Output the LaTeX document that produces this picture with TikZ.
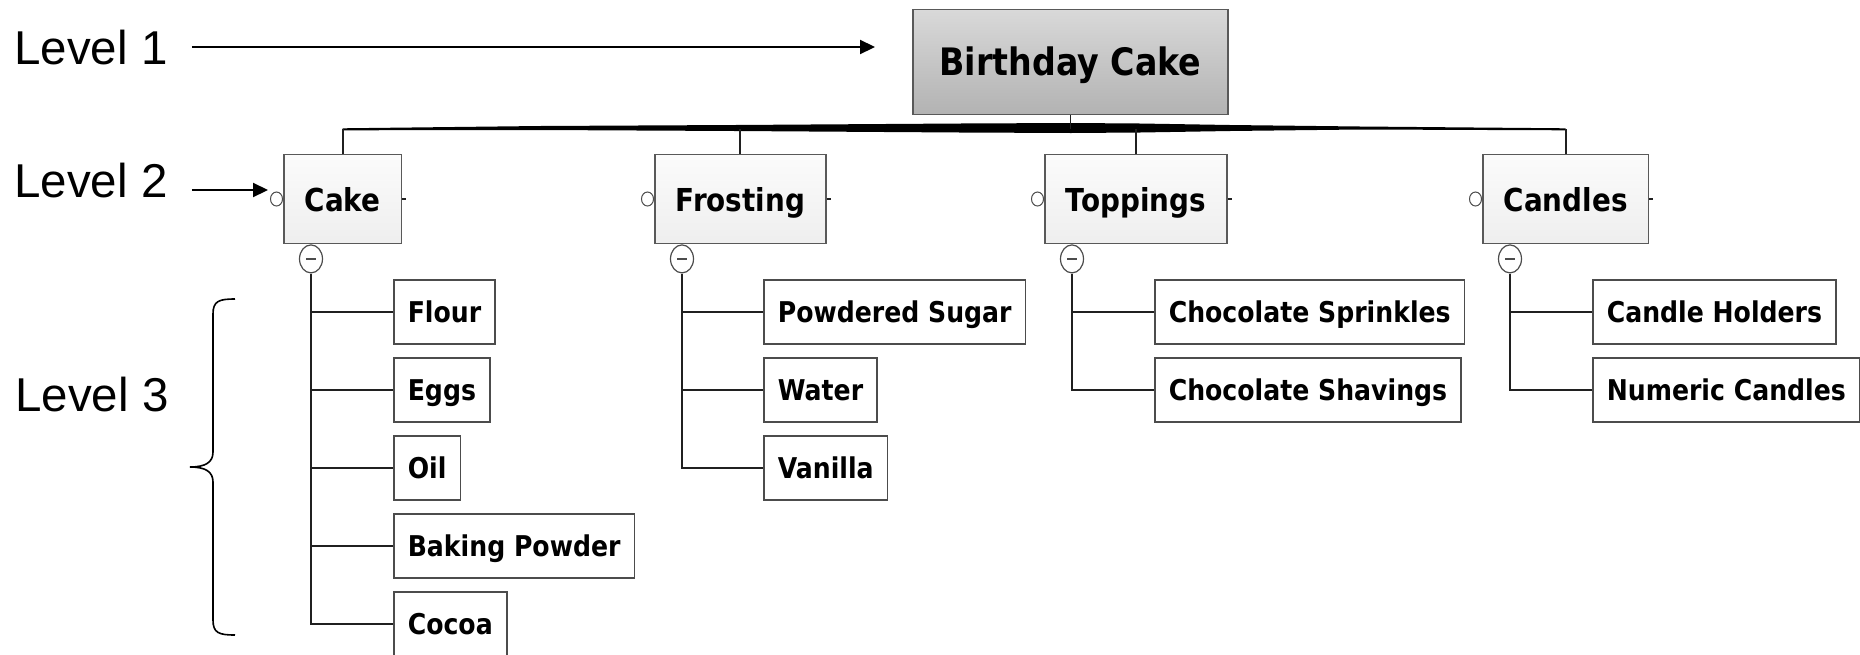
\documentclass[tikz,border=0pt]{standalone}
\usepackage{fontspec}
\setmainfont{Liberation Sans}
\newfontfamily\boxfont{DejaVu Sans}[FakeStretch=0.88]
\usetikzlibrary{arrows.meta,positioning,shapes.geometric,decorations.pathreplacing,calc}

\begin{document}
\begin{tikzpicture}[x=0.5pt, y=-0.5pt, >={Stealth[length=7.5pt,width=7pt,inset=0pt]}]
  \tikzset{
    lvl/.style={font=\fontsize{23.75}{28}\selectfont, inner sep=0, anchor=base west},
    root/.style={draw=gray!70!black, line width=0.8pt, top color=gray!30, bottom color=gray!60,
      minimum height=52.5pt, inner xsep=13.25pt, text height=15pt, text depth=1.2pt,
      font=\boxfont\bfseries\fontsize{18.9}{22}\selectfont},
    mid/.style={draw=gray!70!black, line width=0.8pt, top color=gray!3, bottom color=gray!13,
      minimum height=44.5pt, inner xsep=10.5pt, text height=13pt, text depth=1pt, anchor=west,
      font=\boxfont\bfseries\fontsize{15.8}{19}\selectfont},
    leaf/.style={draw=gray!60!black, line width=0.8pt, fill=white, minimum height=32pt,
      inner xsep=7pt, text height=12pt, text depth=1.2pt, anchor=west,
      font=\boxfont\bfseries\fontsize{14.3}{17}\selectfont},
    dot/.style={draw=gray!60!black, ellipse, fill=white, inner sep=0, minimum width=6pt,
      minimum height=7pt, line width=0.5pt, anchor=east},
    knob/.style={draw=gray!60!black, ellipse, fill=white, inner sep=0, minimum width=11.5pt,
      minimum height=14pt, line width=0.6pt, anchor=north,
      path picture={\draw[line width=0.6pt] ([xshift=-2.5pt]path picture bounding box.center) -- ([xshift=2.5pt]path picture bounding box.center);}},
    link/.style={draw=gray!25!black, line width=0.75pt}
  }
  \useasboundingbox (0,0) rectangle (1860,654);

  \node[lvl] (lvl1) at (14,64) {Level 1};
  \node[lvl] (lvl2) at (14,197) {Level 2};
  \node[lvl] (lvl3) at (15,411) {Level 3};
  \coordinate (tip1) at (875,47);
  \coordinate (tip2) at (268,190);
  \draw[->, line width=1.1pt, shorten <=12pt] (lvl1.east |- tip1) -- (tip1);
  \draw[->, line width=1.1pt, shorten <=12pt] (lvl2.east |- tip2) -- (tip2);
  \coordinate (bracetop) at (235,299);
  \coordinate (bracebot) at (235,635);
  \draw[line width=0.8pt] (bracetop) .. controls (219,299) and (213,301) .. (213,314) -- (213,452)
    .. controls (213,462) and (206,467) .. (190,467) .. controls (206,467) and (213,472) .. (213,482)
    -- (213,620) .. controls (213,633) and (219,635) .. (bracebot);

  \node[root] (root) at (1070.5,62) {Birthday Cake};
  \node[mid] (cake) at (283,199) {Cake};
  \node[mid] (frosting) at (654,199) {Frosting};
  \node[mid] (toppings) at (1044,199) {Toppings};
  \node[mid] (candles) at (1482,199) {Candles};

  \coordinate (hub) at ($(root.south)+(0,14)$);
  \fill ($(hub -| cake)+(0,-1)$) -- (540,126) -- (735,125) -- (960,123.5) -- (1071,123)
    -- (1140,123.5) -- (1230,125) -- (1360,126.5) -- ($(hub -| candles)+(0,-1)$)
    -- ($(hub -| candles)+(0,1)$) -- (1360,129.5) -- (1230,131) -- (1140,132.5) -- (1071,133)
    -- (960,132.5) -- (735,131) -- (540,130) -- ($(hub -| cake)+(0,1)$) -- cycle;
  \draw[link] (root) -- (hub);
  \draw[link, line width=1pt] (hub -| cake) -- (cake);
  \draw[link, line width=1pt] (hub -| frosting) -- (frosting);
  \draw[link, line width=1pt] (hub -| toppings) -- (toppings);
  \draw[link, line width=1pt] (hub -| candles) -- (candles);

  \node[dot] (cakedot) at (cake.west) {};
  \node[dot] (frostingdot) at (frosting.west) {};
  \node[dot] (toppingsdot) at (toppings.west) {};
  \node[dot] (candlesdot) at (candles.west) {};
  \draw[link, line width=0.6pt] (cake.east) -- ++(4,0);
  \draw[link, line width=0.6pt] (frosting.east) -- ++(4,0);
  \draw[link, line width=0.6pt] (toppings.east) -- ++(4,0);
  \draw[link, line width=0.6pt] (candles.east) -- ++(4,0);

  \node[knob] (cakeknob) at ([xshift=14pt]cake.south west) {};
  \node[knob] (frostingknob) at ([xshift=14pt]frosting.south west) {};
  \node[knob] (toppingsknob) at ([xshift=14pt]toppings.south west) {};
  \node[knob] (candlesknob) at ([xshift=14pt]candles.south west) {};

  \node[leaf] (flour) at (393,312) {Flour};
  \node[leaf] (eggs) at ($(flour.west)+(0,78)$) {Eggs};
  \node[leaf] (oil) at ($(eggs.west)+(0,78)$) {Oil};
  \node[leaf] (baking) at ($(oil.west)+(0,78)$) {Baking Powder};
  \node[leaf] (cocoa) at ($(baking.west)+(0,78)$) {Cocoa};

  \node[leaf] (sugar) at (763,312) {Powdered Sugar};
  \node[leaf] (water) at ($(sugar.west)+(0,78)$) {Water};
  \node[leaf] (vanilla) at ($(water.west)+(0,78)$) {Vanilla};

  \node[leaf] (sprinkles) at (1154,312) {Chocolate Sprinkles};
  \node[leaf] (shavings) at ($(sprinkles.west)+(0,78)$) {Chocolate Shavings};

  \node[leaf] (holders) at (1592,312) {Candle Holders};
  \node[leaf] (numeric) at ($(holders.west)+(0,78)$) {Numeric Candles};

  \draw[link] (cakeknob) |- (cocoa);
  \draw[link] (cakeknob |- flour) -- (flour);
  \draw[link] (cakeknob |- eggs) -- (eggs);
  \draw[link] (cakeknob |- oil) -- (oil);
  \draw[link] (cakeknob |- baking) -- (baking);
  \draw[link] (frostingknob) |- (vanilla);
  \draw[link] (frostingknob |- sugar) -- (sugar);
  \draw[link] (frostingknob |- water) -- (water);
  \draw[link] (toppingsknob) |- (shavings);
  \draw[link] (toppingsknob |- sprinkles) -- (sprinkles);
  \draw[link] (candlesknob) |- (numeric);
  \draw[link] (candlesknob |- holders) -- (holders);
\end{tikzpicture}
\end{document}
